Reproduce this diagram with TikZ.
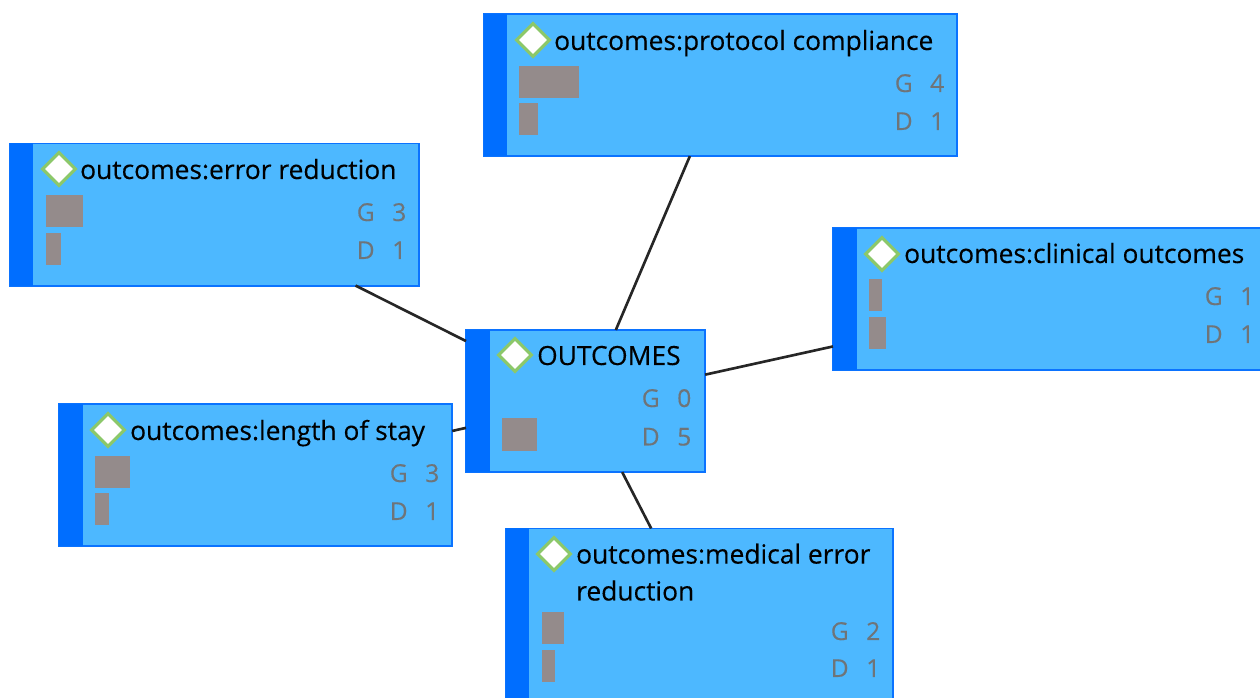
\documentclass[tikz,border=0pt]{standalone}
\usepackage{fontspec}
\setmainfont{Open Sans}
\newfontfamily\heavyfont[FakeBold=0.25]{Open Sans}
\usetikzlibrary{shapes.geometric}
\definecolor{cardblue}{HTML}{4DB8FF}
\definecolor{edgeblue}{HTML}{0B73FF}
\definecolor{stripeblue}{HTML}{006EFF}
\definecolor{bargray}{HTML}{948B8B}
\definecolor{countgray}{HTML}{6F7478}
\definecolor{markgreen}{HTML}{8CC86A}
\tikzset{
  card/.style={draw=edgeblue, line width=0.55pt, fill=cardblue, rectangle, anchor=north west, inner sep=0pt, outer sep=0pt, minimum height=1.42cm},
  stripe/.style={fill=stripeblue, rectangle, anchor=north west, inner sep=0pt, outer sep=0pt, minimum width=0.235cm, minimum height=1.42cm},
  marker/.style={diamond, draw=markgreen, line width=0.9pt, fill=white, inner sep=0pt, minimum size=0.34cm},
  title/.style={anchor=base west, inner sep=0pt, text=black, font=\heavyfont\fontsize{7.5pt}{10.5pt}\selectfont},
  bar/.style={fill=bargray, rectangle, anchor=north west, inner sep=0pt, outer sep=0pt, minimum height=0.32cm},
  count/.style={anchor=base east, inner sep=0pt, text=countgray, font=\heavyfont\fontsize{7pt}{8pt}\selectfont},
  link/.style={draw=black!85, line width=0.75pt}
}
\newcommand{\gap}{\hspace{1.75mm}}
\begin{document}
\begin{tikzpicture}[x=0.01cm,y=-0.01cm]
  \useasboundingbox (0,0) rectangle (1260,698);
  \clip (0,0) rectangle (1260,698);
  % protocol compliance
  \node[card, minimum width=4.73cm, name=protocol] at (483.5,14){};
  \node[stripe, name=protocolS] at (protocol.north west){};
  \node[marker, name=protocolM] at (533,40){};
  \node[title, name=protocolT] at (553.5,50){outcomes:protocol compliance};
  \node[bar, minimum width=0.60cm, name=protocolG] at (519,66){};
  \node[bar, minimum width=0.19cm, name=protocolD] at (519,103){};
  \node[count, name=protocolGc] at (945,92){G\gap 4};
  \node[count, name=protocolDc] at (945,130){D\gap 1};
  % error reduction
  \node[card, minimum width=4.09cm, name=error] at (9.5,143.5){};
  \node[stripe, name=errorS] at (error.north west){};
  \node[marker, name=errorM] at (59,169){};
  \node[title, name=errorT] at (79.5,179){outcomes:error reduction};
  \node[bar, minimum width=0.37cm, name=errorG] at (46,195){};
  \node[bar, minimum width=0.15cm, name=errorD] at (46,233){};
  \node[count, name=errorGc] at (407,221){G\gap 3};
  \node[count, name=errorDc] at (407,259){D\gap 1};
  % clinical outcomes
  \node[card, minimum width=4.30cm, name=clinical] at (833,228){};
  \node[stripe, name=clinicalS] at (clinical.north west){};
  \node[marker, name=clinicalM] at (882,254){};
  \node[title, name=clinicalT] at (903.5,263){outcomes:clinical outcomes};
  \node[bar, minimum width=0.13cm, name=clinicalG] at (869,279){};
  \node[bar, minimum width=0.17cm, name=clinicalD] at (869,317){};
  \node[count, name=clinicalGc] at (1255,305){G\gap 1};
  \node[count, name=clinicalDc] at (1255,343){D\gap 1};
  % root
  \node[card, minimum width=2.39cm, name=root] at (466,330){};
  \node[stripe, name=rootS] at (root.north west){};
  \node[marker, name=rootM] at (515,355){};
  \node[title, name=rootT] at (536.5,365){OUTCOMES};
  \node[bar, minimum width=0.35cm, minimum height=0.33cm, name=rootD] at (502,418){};
  \node[count, name=rootGc] at (692,407){G\gap 0};
  \node[count, name=rootDc] at (692,445.5){D\gap 5};
  % length of stay
  \node[card, minimum width=3.93cm, name=stay] at (59,404){};
  \node[stripe, name=stayS] at (stay.north west){};
  \node[marker, name=stayM] at (108,430){};
  \node[title, name=stayT] at (129.5,440){outcomes:length of stay};
  \node[bar, minimum width=0.35cm, name=stayG] at (95,456){};
  \node[bar, minimum width=0.14cm, name=stayD] at (95,493){};
  \node[count, name=stayGc] at (440,482){G\gap 3};
  \node[count, name=stayDc] at (440,520){D\gap 1};
  % medical error reduction
  \node[card, minimum width=3.87cm, minimum height=1.86cm, name=medical] at (505.5,528.5){};
  \node[stripe, minimum height=1.86cm, name=medicalS] at (medical.north west){};
  \node[marker, name=medicalM] at (554,554){};
  \node[title, align=left, name=medicalT] at (575.5,600.5){outcomes:medical error\\reduction};
  \node[bar, minimum width=0.22cm, name=medicalG] at (542,612){};
  \node[bar, minimum width=0.13cm, name=medicalD] at (542,650){};
  \node[count, name=medicalGc] at (881,640){G\gap 2};
  \node[count, name=medicalDc] at (881,677){D\gap 1};
  % links
  \draw[link] (root) -- (protocol);
  \draw[link] (root) -- (error);
  \draw[link] (root) -- (clinical);
  \draw[link] (root) -- (stay);
  \draw[link] (root) -- (medical);
\end{tikzpicture}
\end{document}
